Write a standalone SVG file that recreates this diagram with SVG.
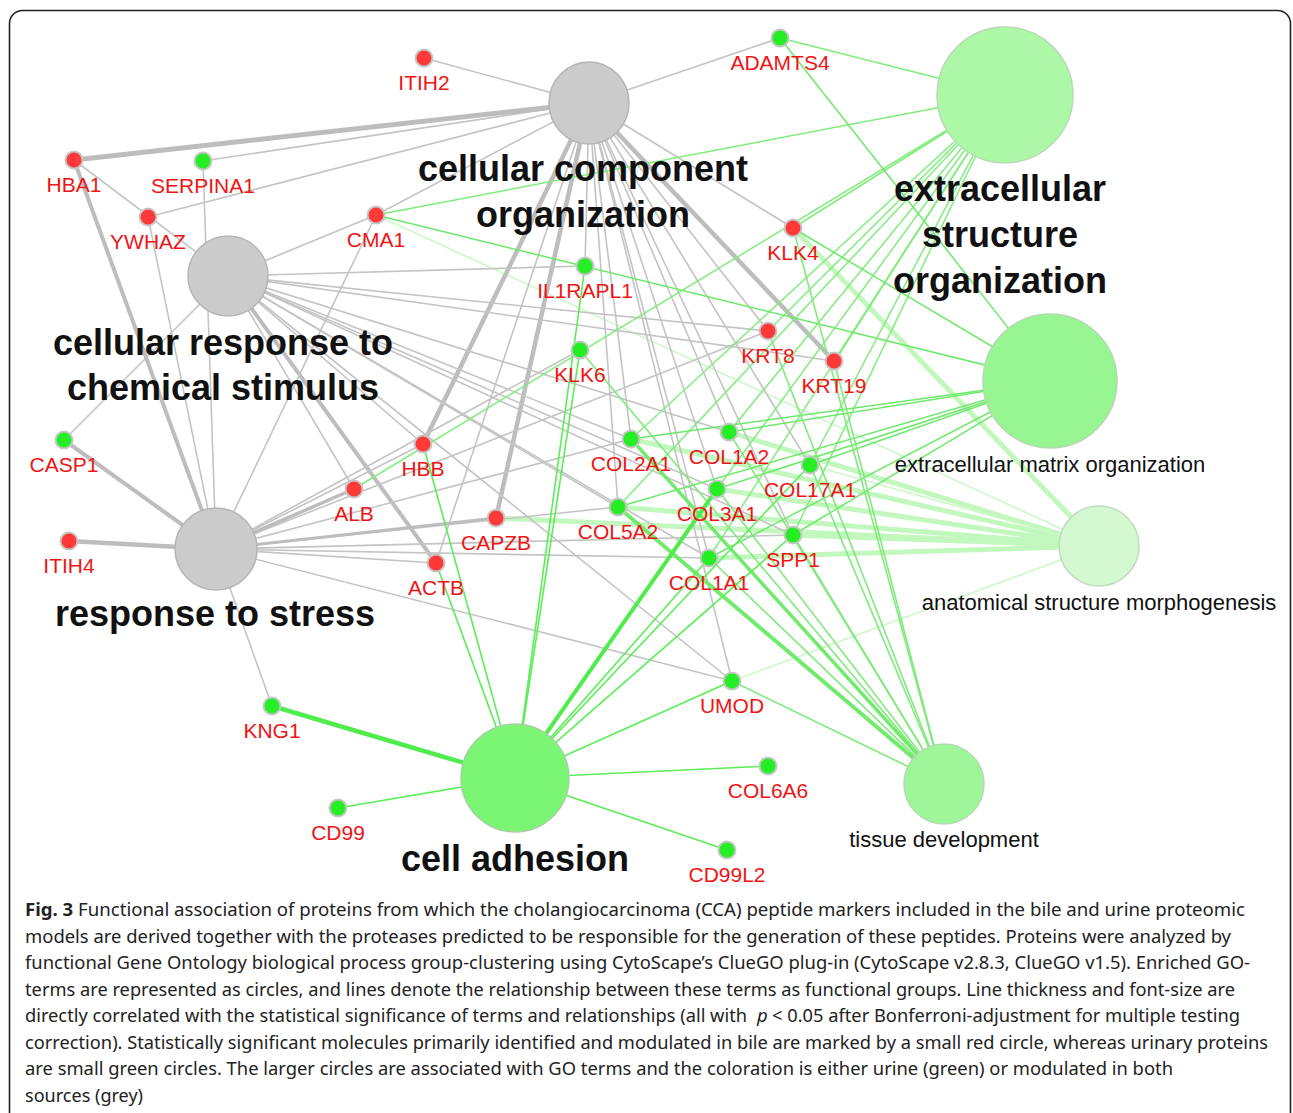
<svg xmlns="http://www.w3.org/2000/svg" width="1293" height="1113" viewBox="0 0 1293 1113">
<style>
.g{stroke:#c4c4c4;stroke-width:1.6;fill:none}
.gt{stroke:#bdbdbd;stroke-width:4.5;fill:none}
.e{stroke:#80ed7c;stroke-width:1.5}
.m{stroke:#6ce96a;stroke-width:1.5}
.a{stroke:#c2f7bd;stroke-width:5}
.a1{stroke:#cdf8c9;stroke-width:1.6}
.t{stroke:#80ea7c;stroke-width:1.6}
.tt{stroke:#72ea6e;stroke-width:4}
.c{stroke:#5aee56;stroke-width:1.6}
.ct{stroke:#4fec4b;stroke-width:4.5}
.gray{fill:#cbcbcb;stroke:#b5b5b5;stroke-width:1.5}
.rn{fill:#ff3838;stroke:#c6c6c6;stroke-width:2}
.gn{fill:#25ee25;stroke:#c6c6c6;stroke-width:2}
.lbl{font-family:"Liberation Sans",Arial,sans-serif;font-size:21px;fill:#f01414;text-anchor:middle}
.big{font-family:"Liberation Sans",Arial,sans-serif;font-size:36px;font-weight:bold;fill:#111;text-anchor:middle}
.mid{font-family:"Liberation Sans",Arial,sans-serif;font-size:22px;fill:#111;text-anchor:middle}
.cap{font-family:"Noto Sans","Open Sans",sans-serif;font-size:18.5px;fill:#222}
</style>
<rect x="9.5" y="10.5" width="1281" height="1130" rx="13" fill="#fff" stroke="#222" stroke-width="1.6"/>
<g id="connectors">
<line class="a" x1="1099" y1="546" x2="793" y2="228"/>
<line class="a" x1="1099" y1="546" x2="496" y2="518"/>
<line class="a" x1="1099" y1="546" x2="631" y2="439"/>
<line class="a" x1="1099" y1="546" x2="729" y2="432"/>
<line class="a" x1="1099" y1="546" x2="717" y2="489"/>
<line class="a" x1="1099" y1="546" x2="618" y2="507"/>
<line class="a" x1="1099" y1="546" x2="793" y2="535"/>
<line class="a" x1="1099" y1="546" x2="709" y2="558"/>
<line class="a1" x1="1099" y1="546" x2="376" y2="215"/>
<line class="a1" x1="1099" y1="546" x2="732" y2="681"/>
<line class="a1" x1="1099" y1="546" x2="810" y2="465"/>
<line class="g" x1="589" y1="103" x2="424" y2="58"/>
<line class="g" x1="589" y1="103" x2="780" y2="38"/>
<line class="g" x1="589" y1="103" x2="203" y2="161"/>
<line class="g" x1="589" y1="103" x2="148" y2="217"/>
<line class="g" x1="589" y1="103" x2="376" y2="215"/>
<line class="g" x1="589" y1="103" x2="585" y2="266"/>
<line class="g" x1="589" y1="103" x2="793" y2="228"/>
<line class="g" x1="589" y1="103" x2="436" y2="563"/>
<line class="g" x1="589" y1="103" x2="631" y2="439"/>
<line class="g" x1="589" y1="103" x2="729" y2="432"/>
<line class="g" x1="589" y1="103" x2="717" y2="489"/>
<line class="g" x1="589" y1="103" x2="618" y2="507"/>
<line class="g" x1="589" y1="103" x2="793" y2="535"/>
<line class="g" x1="589" y1="103" x2="709" y2="558"/>
<line class="g" x1="589" y1="103" x2="732" y2="681"/>
<line class="g" x1="589" y1="103" x2="768" y2="331"/>
<line class="g" x1="589" y1="103" x2="810" y2="465"/>
<line class="gt" x1="589" y1="103" x2="74" y2="160" style="stroke-width:5"/>
<line class="gt" x1="589" y1="103" x2="423" y2="444"/>
<line class="gt" x1="589" y1="103" x2="496" y2="518"/>
<line class="gt" x1="589" y1="103" x2="834" y2="361"/>
<line class="g" x1="228" y1="276" x2="74" y2="160"/>
<line class="g" x1="228" y1="276" x2="376" y2="215"/>
<line class="g" x1="228" y1="276" x2="585" y2="266"/>
<line class="g" x1="228" y1="276" x2="768" y2="331"/>
<line class="g" x1="228" y1="276" x2="64" y2="440"/>
<line class="g" x1="228" y1="276" x2="423" y2="444"/>
<line class="g" x1="228" y1="276" x2="354" y2="489"/>
<line class="g" x1="228" y1="276" x2="631" y2="439"/>
<line class="g" x1="228" y1="276" x2="729" y2="432"/>
<line class="g" x1="228" y1="276" x2="717" y2="489"/>
<line class="g" x1="228" y1="276" x2="618" y2="507"/>
<line class="g" x1="228" y1="276" x2="793" y2="535"/>
<line class="g" x1="228" y1="276" x2="709" y2="558"/>
<line class="g" x1="228" y1="276" x2="732" y2="681"/>
<line class="g" x1="228" y1="276" x2="834" y2="361"/>
<line class="gt" x1="228" y1="276" x2="436" y2="563" style="stroke-width:4"/>
<line class="g" x1="216" y1="549" x2="203" y2="161"/>
<line class="g" x1="216" y1="549" x2="148" y2="217"/>
<line class="g" x1="216" y1="549" x2="376" y2="215"/>
<line class="g" x1="216" y1="549" x2="423" y2="444"/>
<line class="g" x1="216" y1="549" x2="436" y2="563"/>
<line class="g" x1="216" y1="549" x2="631" y2="439"/>
<line class="g" x1="216" y1="549" x2="618" y2="507"/>
<line class="g" x1="216" y1="549" x2="793" y2="535"/>
<line class="g" x1="216" y1="549" x2="709" y2="558"/>
<line class="g" x1="216" y1="549" x2="768" y2="331"/>
<line class="g" x1="216" y1="549" x2="732" y2="681"/>
<line class="g" x1="216" y1="549" x2="272" y2="706"/>
<line class="g" x1="216" y1="549" x2="580" y2="350"/>
<line class="gt" x1="216" y1="549" x2="74" y2="160" style="stroke-width:4"/>
<line class="gt" x1="216" y1="549" x2="64" y2="440" style="stroke-width:4"/>
<line class="gt" x1="216" y1="549" x2="69" y2="541"/>
<line class="gt" x1="216" y1="549" x2="354" y2="489" style="stroke-width:3.5"/>
<line class="gt" x1="216" y1="549" x2="496" y2="518" style="stroke-width:3"/>
<line class="e" x1="1005" y1="95" x2="780" y2="38"/>
<line class="e" x1="1005" y1="95" x2="376" y2="215"/>
<line class="e" x1="1005" y1="95" x2="793" y2="228"/>
<line class="e" x1="1005" y1="95" x2="354" y2="489"/>
<line class="e" x1="1005" y1="95" x2="631" y2="439"/>
<line class="e" x1="1005" y1="95" x2="729" y2="432"/>
<line class="e" x1="1005" y1="95" x2="717" y2="489"/>
<line class="e" x1="1005" y1="95" x2="618" y2="507"/>
<line class="e" x1="1005" y1="95" x2="810" y2="465"/>
<line class="e" x1="1005" y1="95" x2="793" y2="535"/>
<line class="e" x1="1005" y1="95" x2="709" y2="558"/>
<line class="e" x1="1005" y1="95" x2="768" y2="331"/>
<line class="e" x1="1005" y1="95" x2="834" y2="361"/>
<line class="m" x1="1050" y1="381" x2="780" y2="38"/>
<line class="m" x1="1050" y1="381" x2="376" y2="215"/>
<line class="m" x1="1050" y1="381" x2="793" y2="228"/>
<line class="m" x1="1050" y1="381" x2="631" y2="439"/>
<line class="m" x1="1050" y1="381" x2="729" y2="432"/>
<line class="m" x1="1050" y1="381" x2="717" y2="489"/>
<line class="m" x1="1050" y1="381" x2="618" y2="507"/>
<line class="m" x1="1050" y1="381" x2="810" y2="465"/>
<line class="m" x1="1050" y1="381" x2="793" y2="535"/>
<line class="m" x1="1050" y1="381" x2="709" y2="558"/>
<line class="t" x1="944" y1="784" x2="580" y2="350"/>
<line class="t" x1="944" y1="784" x2="793" y2="228"/>
<line class="t" x1="944" y1="784" x2="768" y2="331"/>
<line class="t" x1="944" y1="784" x2="834" y2="361"/>
<line class="t" x1="944" y1="784" x2="729" y2="432"/>
<line class="t" x1="944" y1="784" x2="717" y2="489"/>
<line class="t" x1="944" y1="784" x2="810" y2="465"/>
<line class="t" x1="944" y1="784" x2="793" y2="535"/>
<line class="t" x1="944" y1="784" x2="709" y2="558"/>
<line class="t" x1="944" y1="784" x2="732" y2="681"/>
<line class="tt" x1="944" y1="784" x2="631" y2="439" style="stroke-width:3.5"/>
<line class="tt" x1="944" y1="784" x2="618" y2="507"/>
<line class="c" x1="515" y1="778" x2="585" y2="266"/>
<line class="c" x1="515" y1="778" x2="580" y2="350"/>
<line class="c" x1="515" y1="778" x2="423" y2="444"/>
<line class="c" x1="515" y1="778" x2="436" y2="563"/>
<line class="c" x1="515" y1="778" x2="709" y2="558"/>
<line class="c" x1="515" y1="778" x2="810" y2="465"/>
<line class="c" x1="515" y1="778" x2="793" y2="535"/>
<line class="c" x1="515" y1="778" x2="732" y2="681"/>
<line class="c" x1="515" y1="778" x2="338" y2="808"/>
<line class="c" x1="515" y1="778" x2="768" y2="766"/>
<line class="c" x1="515" y1="778" x2="727" y2="850"/>
<line class="ct" x1="515" y1="778" x2="717" y2="489" style="stroke-width:4"/>
<line class="ct" x1="515" y1="778" x2="272" y2="706"/>
</g>
<g id="cco"><ellipse class="gray" cx="589" cy="103" rx="40" ry="41"/><text class="big" x="583" y="181">cellular component</text><text class="big" x="583" y="227">organization</text></g>
<g id="crcs"><circle class="gray" cx="228" cy="276" r="40"/><text class="big" x="223" y="355">cellular response to</text><text class="big" x="223" y="400">chemical stimulus</text></g>
<g id="rts"><circle class="gray" cx="216" cy="549" r="41"/><text class="big" x="215" y="626">response to stress</text></g>
<g id="eso"><circle cx="1005" cy="95" r="68" fill="#adf8a7" stroke="#b9d9b6" stroke-width="1.5"/><text class="big" x="1000" y="201">extracellular</text><text class="big" x="1000" y="247">structure</text><text class="big" x="1000" y="293">organization</text></g>
<g id="emo"><circle cx="1050" cy="381" r="67" fill="#98f692" stroke="#b6d8b3" stroke-width="1.5"/><text class="mid" x="1050" y="472">extracellular matrix organization</text></g>
<g id="asm"><circle cx="1099" cy="546" r="40" fill="#d4f9d0" stroke="#c2d8c0" stroke-width="1.5"/><text class="mid" x="1099" y="610">anatomical structure morphogenesis</text></g>
<g id="td"><circle cx="944" cy="784" r="40" fill="#9ff69a" stroke="#b6d8b3" stroke-width="1.5"/><text class="mid" x="944" y="847">tissue development</text></g>
<g id="ca"><circle cx="515" cy="778" r="54" fill="#7af674" stroke="#a9cfa6" stroke-width="1.5"/><text class="big" x="515" y="871">cell adhesion</text></g>
<g id="ITIH2"><circle class="rn" cx="424" cy="58" r="8.5"/><text class="lbl" x="424" y="90">ITIH2</text></g>
<g id="HBA1"><circle class="rn" cx="74" cy="160" r="8.5"/><text class="lbl" x="74" y="192">HBA1</text></g>
<g id="SERPINA1"><circle class="gn" cx="203" cy="161" r="8.5"/><text class="lbl" x="203" y="193">SERPINA1</text></g>
<g id="YWHAZ"><circle class="rn" cx="148" cy="217" r="8.5"/><text class="lbl" x="148" y="249">YWHAZ</text></g>
<g id="CMA1"><circle class="rn" cx="376" cy="215" r="8.5"/><text class="lbl" x="376" y="247">CMA1</text></g>
<g id="ADAMTS4"><circle class="gn" cx="780" cy="38" r="8.5"/><text class="lbl" x="780" y="70">ADAMTS4</text></g>
<g id="IL1RAPL1"><circle class="gn" cx="585" cy="266" r="8.5"/><text class="lbl" x="585" y="298">IL1RAPL1</text></g>
<g id="KLK6"><circle class="gn" cx="580" cy="350" r="8.5"/><text class="lbl" x="580" y="382">KLK6</text></g>
<g id="KLK4"><circle class="rn" cx="793" cy="228" r="8.5"/><text class="lbl" x="793" y="260">KLK4</text></g>
<g id="KRT8"><circle class="rn" cx="768" cy="331" r="8.5"/><text class="lbl" x="768" y="363">KRT8</text></g>
<g id="KRT19"><circle class="rn" cx="834" cy="361" r="8.5"/><text class="lbl" x="834" y="393">KRT19</text></g>
<g id="CASP1"><circle class="gn" cx="64" cy="440" r="8.5"/><text class="lbl" x="64" y="472">CASP1</text></g>
<g id="HBB"><circle class="rn" cx="423" cy="444" r="8.5"/><text class="lbl" x="423" y="476">HBB</text></g>
<g id="ALB"><circle class="rn" cx="354" cy="489" r="8.5"/><text class="lbl" x="354" y="521">ALB</text></g>
<g id="ITIH4"><circle class="rn" cx="69" cy="541" r="8.5"/><text class="lbl" x="69" y="573">ITIH4</text></g>
<g id="CAPZB"><circle class="rn" cx="496" cy="518" r="8.5"/><text class="lbl" x="496" y="550">CAPZB</text></g>
<g id="ACTB"><circle class="rn" cx="436" cy="563" r="8.5"/><text class="lbl" x="436" y="595">ACTB</text></g>
<g id="COL2A1"><circle class="gn" cx="631" cy="439" r="8.5"/><text class="lbl" x="631" y="471">COL2A1</text></g>
<g id="COL1A2"><circle class="gn" cx="729" cy="432" r="8.5"/><text class="lbl" x="729" y="464">COL1A2</text></g>
<g id="COL17A1"><circle class="gn" cx="810" cy="465" r="8.5"/><text class="lbl" x="810" y="497">COL17A1</text></g>
<g id="COL3A1"><circle class="gn" cx="717" cy="489" r="8.5"/><text class="lbl" x="717" y="521">COL3A1</text></g>
<g id="COL5A2"><circle class="gn" cx="618" cy="507" r="8.5"/><text class="lbl" x="618" y="539">COL5A2</text></g>
<g id="SPP1"><circle class="gn" cx="793" cy="535" r="8.5"/><text class="lbl" x="793" y="567">SPP1</text></g>
<g id="COL1A1"><circle class="gn" cx="709" cy="558" r="8.5"/><text class="lbl" x="709" y="590">COL1A1</text></g>
<g id="UMOD"><circle class="gn" cx="732" cy="681" r="8.5"/><text class="lbl" x="732" y="713">UMOD</text></g>
<g id="KNG1"><circle class="gn" cx="272" cy="706" r="8.5"/><text class="lbl" x="272" y="738">KNG1</text></g>
<g id="CD99"><circle class="gn" cx="338" cy="808" r="8.5"/><text class="lbl" x="338" y="840">CD99</text></g>
<g id="COL6A6"><circle class="gn" cx="768" cy="766" r="8.5"/><text class="lbl" x="768" y="798">COL6A6</text></g>
<g id="CD99L2"><circle class="gn" cx="727" cy="850" r="8.5"/><text class="lbl" x="727" y="882">CD99L2</text></g>
<g id="caption">
<text class="cap" x="25" y="916" textLength="1220" lengthAdjust="spacingAndGlyphs"><tspan font-weight="bold">Fig. 3</tspan> Functional association of proteins from which the cholangiocarcinoma (CCA) peptide markers included in the bile and urine proteomic</text>
<text class="cap" x="25" y="943" textLength="1206" lengthAdjust="spacingAndGlyphs">models are derived together with the proteases predicted to be responsible for the generation of these peptides. Proteins were analyzed by</text>
<text class="cap" x="25" y="969" textLength="1225" lengthAdjust="spacingAndGlyphs">functional Gene Ontology biological process group-clustering using CytoScape’s ClueGO plug-in (CytoScape v2.8.3, ClueGO v1.5). Enriched GO-</text>
<text class="cap" x="25" y="996" textLength="1210" lengthAdjust="spacingAndGlyphs">terms are represented as circles, and lines denote the relationship between these terms as functional groups. Line thickness and font-size are</text>
<text class="cap" x="25" y="1022" textLength="722" lengthAdjust="spacingAndGlyphs">directly correlated with the statistical significance of terms and relationships (all with</text>
<text class="cap" x="757" y="1022" font-style="italic">p</text>
<text class="cap" x="772" y="1022" textLength="468" lengthAdjust="spacingAndGlyphs">&lt; 0.05 after Bonferroni-adjustment for multiple testing</text>
<text class="cap" x="25" y="1049" textLength="1243" lengthAdjust="spacingAndGlyphs">correction). Statistically significant molecules primarily identified and modulated in bile are marked by a small red circle, whereas urinary proteins</text>
<text class="cap" x="25" y="1075" textLength="1148" lengthAdjust="spacingAndGlyphs">are small green circles. The larger circles are associated with GO terms and the coloration is either urine (green) or modulated in both</text>
<text class="cap" x="25" y="1102" textLength="118" lengthAdjust="spacingAndGlyphs">sources (grey)</text>
</g>
</svg>
